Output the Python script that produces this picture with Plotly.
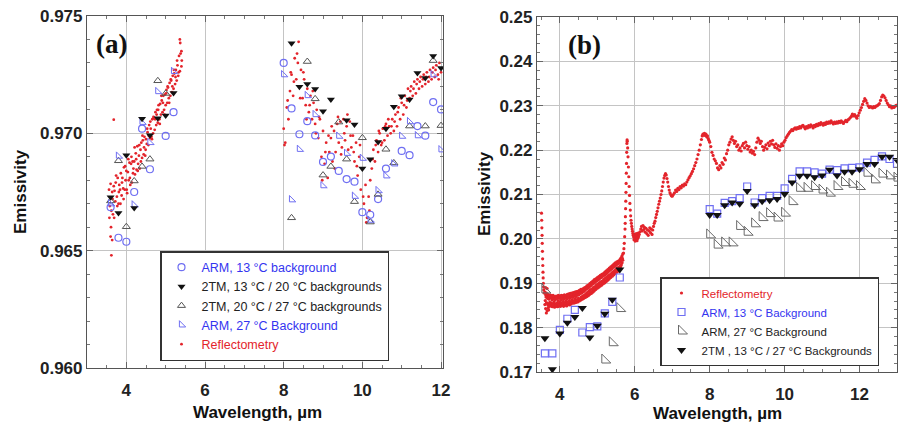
import plotly.graph_objects as go

# ---------------- Panel (a) data ----------------
A_ARM13_X = [3.6, 3.8, 4.0, 4.2, 4.4, 4.6, 5.0, 5.2,
             8.0, 8.2, 8.4, 8.6, 8.8, 9.0, 9.2, 9.4, 9.6, 9.8, 10.0, 10.2, 10.4, 10.6, 11.0, 11.2, 11.4, 11.6, 11.8, 12.0]
A_ARM13_Y = [0.96685, 0.96555, 0.96538, 0.96750, 0.97020, 0.96847, 0.96989, 0.97090,
             0.97300, 0.97106, 0.96996, 0.97052, 0.96991, 0.96878, 0.96901, 0.96840, 0.96805, 0.96794, 0.96664, 0.96653,
             0.96720, 0.96850, 0.96925, 0.96907, 0.97031, 0.96990, 0.97133, 0.97102]

A_2TM1320_X = [3.6, 3.8, 4.0, 4.2, 4.4, 4.6, 4.8, 5.0, 5.2,
               8.2, 8.4, 8.6, 8.8, 9.0, 9.2, 9.6, 9.8, 10.0, 10.2, 10.4, 10.6, 10.8, 11.0, 11.2, 11.4, 11.6, 11.8, 12.0]
A_2TM1320_Y = [0.96728, 0.96661, 0.96907, 0.96682, 0.97062, 0.96992, 0.97064, 0.97076, 0.97172,
               0.97384, 0.97198, 0.97210, 0.97189, 0.97094, 0.97144, 0.97056, 0.97038, 0.96850, 0.96890, 0.96963,
               0.97020, 0.97113, 0.97158, 0.97144, 0.97257, 0.97236, 0.97330, 0.97278]

A_2TM2027_X = [3.6, 3.8, 4.0, 4.2, 4.4, 4.6, 4.8, 5.0,
               8.2, 8.6, 8.8, 9.0, 9.2, 9.4, 9.6, 9.8, 10.0, 10.2, 10.4, 10.6, 10.8, 11.2, 11.6, 11.8, 12.0]
A_2TM2027_Y = [0.96712, 0.96883, 0.96602, 0.96797, 0.96859, 0.96890, 0.97224, 0.97170,
               0.96640, 0.97306, 0.97147, 0.96822, 0.96859, 0.97048, 0.96890, 0.96709, 0.96981, 0.96622, 0.96740,
               0.96932, 0.96874, 0.97031, 0.97031, 0.97310, 0.97033]

A_ARM27_X = [3.6, 3.8, 4.2, 4.4, 4.6, 4.8, 5.2,
             8.0, 8.2, 8.4, 8.6, 8.8, 9.0, 9.4, 9.6, 9.8, 10.0, 10.2, 10.4, 10.6, 10.8, 11.0, 11.2, 11.4, 11.8, 12.0]
A_ARM27_Y = [0.96700, 0.96903, 0.96695, 0.97047, 0.96961, 0.97178, 0.97264,
             0.97250, 0.96717, 0.96932, 0.97161, 0.97080, 0.96777, 0.96988, 0.96915, 0.96732, 0.96894, 0.96630,
             0.96756, 0.96819, 0.96870, 0.96988, 0.97050, 0.96990, 0.97250, 0.96930]

# Reflectometry, panel (a), short-wave cluster
A_REF_L1_X = [3.56, 3.58, 3.60, 3.62, 3.64, 3.66, 3.68, 3.70, 3.72, 3.74, 3.76, 3.78, 3.80, 3.82, 3.84, 3.86,
              3.88, 3.90, 3.92, 3.94, 3.96, 3.98, 4.00, 4.02, 4.04, 4.06, 4.08, 4.10, 4.12, 4.14, 4.16, 4.18,
              4.20, 4.22, 4.24, 4.26, 4.28, 4.30, 4.32, 4.34, 4.36, 4.38, 4.40, 4.42, 4.44, 4.46, 4.48, 4.50,
              4.52, 4.54, 4.56, 4.58, 4.60, 4.62, 4.64, 4.66, 4.68, 4.70, 4.72, 4.74, 4.76, 4.78, 4.80, 4.82,
              4.84, 4.86, 4.88, 4.90, 4.92, 4.94, 4.96, 4.98, 5.00, 5.02, 5.04, 5.06, 5.08, 5.10, 5.12, 5.14,
              5.16, 5.18, 5.20, 5.22, 5.24, 5.26, 5.28, 5.30, 5.32, 5.34, 5.36, 5.38, 5.40]
A_REF_L1_Y = [0.96760, 0.96690, 0.96785, 0.96670, 0.96750, 0.96655, 0.96775, 0.96755, 0.96710, 0.96820, 0.96730,
              0.96810, 0.96700, 0.96780, 0.96760, 0.96830, 0.96735, 0.96810, 0.96765, 0.96855, 0.96760, 0.96800,
              0.96840, 0.96745, 0.96835, 0.96800, 0.96875, 0.96780, 0.96870, 0.96790, 0.96880, 0.96850, 0.96880,
              0.96825, 0.96915, 0.96845, 0.96945, 0.96870, 0.96905, 0.96850, 0.96930, 0.96960, 0.96895, 0.96970,
              0.96910, 0.96985, 0.96905, 0.96975, 0.96955, 0.97005, 0.96950, 0.97035, 0.96980, 0.97020, 0.96985,
              0.97060, 0.97000, 0.97065, 0.97015, 0.97090, 0.97035, 0.97100, 0.97045, 0.97120, 0.97060, 0.97125,
              0.97080, 0.97140, 0.97090, 0.97160, 0.97100, 0.97165, 0.97120, 0.97185, 0.97130, 0.97195, 0.97150,
              0.97215, 0.97160, 0.97225, 0.97175, 0.97245, 0.97190, 0.97255, 0.97210, 0.97270, 0.97225, 0.97290,
              0.97245, 0.97330, 0.97265, 0.97340, 0.97285]
A_REF_L2_X = [3.57, 3.61, 3.65, 3.69, 3.73, 3.77, 3.81, 3.85, 3.89, 3.93, 3.97, 4.01, 4.05, 4.09, 4.13, 4.17,
              4.21, 4.25, 4.29, 4.33, 4.37, 4.41, 4.45, 4.49, 4.53, 4.57, 4.61, 4.65, 4.69, 4.73, 4.77, 4.81,
              4.85, 4.89, 4.93, 4.97, 5.01, 5.05, 5.09, 5.13, 5.17, 5.21, 5.25, 5.29, 5.33, 5.37, 5.41,
              3.68, 3.62, 3.60, 3.64, 5.36, 5.40]
A_REF_L2_Y = [0.96640, 0.96600, 0.96720, 0.96640, 0.96790, 0.96690, 0.96750, 0.96700, 0.96790, 0.96720, 0.96860,
              0.96760, 0.96890, 0.96810, 0.96900, 0.96830, 0.96940, 0.96890, 0.96840, 0.96950, 0.96880, 0.96990,
              0.96940, 0.96930, 0.97020, 0.96990, 0.97050, 0.96975, 0.97070, 0.97060, 0.97080, 0.97100, 0.97040,
              0.97160, 0.97130, 0.97080, 0.97170, 0.97200, 0.97130, 0.97230, 0.97200, 0.97270, 0.97240, 0.97310,
              0.97260, 0.97385, 0.97310,
              0.97058, 0.96480, 0.96560, 0.96545, 0.97400, 0.97350]

# Reflectometry, panel (a), long-wave cluster
A_REF_R1_X = [8.00, 8.04, 8.08, 8.12, 8.16, 8.20, 8.24, 8.28, 8.32, 8.36, 8.40, 8.44, 8.48, 8.52, 8.56, 8.60,
              8.64, 8.68, 8.72, 8.76, 8.80, 8.84, 8.88, 8.92, 8.96, 9.00, 9.04, 9.08, 9.12, 9.16, 9.20, 9.24,
              9.28, 9.32, 9.36, 9.40, 9.44, 9.48, 9.52, 9.56, 9.60, 9.64, 9.68, 9.72, 9.76, 9.80, 9.84, 9.88,
              9.92, 9.96, 10.00, 10.04, 10.08, 10.12, 10.16, 10.20, 10.24, 10.28, 10.32, 10.36, 10.40, 10.44,
              10.48, 10.52, 10.56, 10.60, 10.64, 10.68, 10.72, 10.76, 10.80, 10.84, 10.88, 10.92, 10.96, 11.00,
              11.04, 11.08, 11.12, 11.16, 11.20, 11.24, 11.28, 11.32, 11.36, 11.40, 11.44, 11.48, 11.52, 11.56,
              11.60, 11.64, 11.68, 11.72, 11.76, 11.80, 11.84, 11.88, 11.92, 11.96, 12.00]
A_REF_R1_Y = [0.97020, 0.96960, 0.97110, 0.97060, 0.97180, 0.97250, 0.97160, 0.97320, 0.97230, 0.97300, 0.97200,
              0.97270, 0.97150, 0.97230, 0.97120, 0.97190, 0.97090, 0.97160, 0.97060, 0.97130, 0.97040, 0.97100,
              0.96980, 0.97060, 0.96900, 0.97010, 0.96870, 0.96960, 0.96810, 0.96920, 0.96980, 0.96880, 0.97010,
              0.96920, 0.97040, 0.96960, 0.97050, 0.96940, 0.97060, 0.96970, 0.97030, 0.96930, 0.97050, 0.96940,
              0.96990, 0.96880, 0.96960, 0.96820, 0.96900, 0.96760, 0.96850, 0.96700, 0.96780, 0.96640, 0.96730,
              0.96800, 0.96850, 0.96930, 0.96880, 0.96970, 0.96920, 0.97000, 0.96950, 0.97020, 0.96970, 0.97040,
              0.96990, 0.97030, 0.97000, 0.97060, 0.97010, 0.97080, 0.97030, 0.97110, 0.97060, 0.97130, 0.97080,
              0.97160, 0.97110, 0.97190, 0.97150, 0.97200, 0.97160, 0.97220, 0.97170, 0.97230, 0.97190, 0.97240,
              0.97200, 0.97250, 0.97210, 0.97260, 0.97220, 0.97270, 0.97230, 0.97280, 0.97240, 0.97290, 0.97250,
              0.97300, 0.97260]
A_REF_R2_X = [8.02, 8.10, 8.18, 8.26, 8.34, 8.42, 8.50, 8.58, 8.66, 8.74, 8.82, 8.90, 8.98, 9.06, 9.14, 9.22,
              9.30, 9.38, 9.46, 9.54, 9.62, 9.70, 9.78, 9.86, 9.94, 10.02, 10.10, 10.18, 10.26, 10.34, 10.42,
              10.50, 10.58, 10.66, 10.74, 10.82, 10.90, 10.98, 11.06, 11.14, 11.22, 11.30, 11.38, 11.46, 11.54,
              11.62, 11.70, 11.78, 11.86, 11.94, 8.38]
A_REF_R2_Y = [0.96950, 0.97140, 0.97260, 0.97220, 0.97340, 0.97150, 0.97260, 0.97060, 0.97120, 0.97180, 0.97000,
              0.97070, 0.96800, 0.96920, 0.96990, 0.97030, 0.96850, 0.97070, 0.96910, 0.97000, 0.97080, 0.96990,
              0.96920, 0.96860, 0.96950, 0.96730, 0.96620, 0.96670, 0.96890, 0.96950, 0.97010, 0.96960, 0.97030,
              0.97060, 0.97030, 0.97050, 0.97090, 0.97150, 0.97120, 0.97140, 0.97180, 0.97190, 0.97210, 0.97220,
              0.97230, 0.97240, 0.97240, 0.97260, 0.97270, 0.97230, 0.97390]

# ---------------- Panel (b) data ----------------
B_ARM13_X = [3.6, 3.8, 4.0, 4.2, 4.4, 4.6, 4.8, 5.0, 5.2, 5.4, 5.6,
             8.0, 8.2, 8.4, 8.6, 8.8, 9.0, 9.2, 9.4, 9.6, 9.8, 10.0, 10.2, 10.4, 10.6, 10.8, 11.0, 11.2, 11.4,
             11.6, 11.8, 12.0, 12.2, 12.4, 12.6, 12.8, 13.0]
B_ARM13_Y = [0.1742, 0.1742, 0.1795, 0.1820, 0.1840, 0.1789, 0.1801, 0.1803, 0.1832, 0.1858, 0.1913,
             0.2067, 0.2057, 0.2081, 0.2085, 0.2092, 0.2118, 0.2082, 0.2092, 0.2097, 0.2097, 0.2114, 0.2135,
             0.2152, 0.2152, 0.2150, 0.2147, 0.2156, 0.2155, 0.2159, 0.2160, 0.2161, 0.2172, 0.2178, 0.2186,
             0.2180, 0.2169]
B_2TM_X = [3.6, 3.8, 4.0, 4.2, 4.4, 4.6, 4.8, 5.0, 5.2, 5.4, 5.6,
           8.0, 8.2, 8.4, 8.6, 8.8, 9.0, 9.2, 9.4, 9.6, 9.8, 10.0, 10.2, 10.4, 10.6, 10.8, 11.0, 11.2, 11.4,
           11.6, 11.8, 12.0, 12.2, 12.4, 12.6, 12.8, 13.0]
B_2TM_Y = [0.1776, 0.1706, 0.1787, 0.1811, 0.1824, 0.1844, 0.1778, 0.1804, 0.1831, 0.1863, 0.1931,
           0.2054, 0.2054, 0.2076, 0.2082, 0.2079, 0.2108, 0.2076, 0.2085, 0.2087, 0.2090, 0.2101, 0.2127,
           0.2142, 0.2142, 0.2139, 0.2143, 0.2156, 0.2143, 0.2151, 0.2151, 0.2157, 0.2169, 0.2169, 0.2185,
           0.2185, 0.2178]
B_ARM27_X = [3.6, 5.2, 5.4, 5.6,
             8.0, 8.2, 8.4, 8.6, 8.8, 9.0, 9.2, 9.4, 9.6, 9.8, 10.0, 10.2, 10.4, 10.6, 10.8, 11.0, 11.2, 11.4,
             11.6, 11.8, 12.0, 12.2, 12.4, 12.6, 12.8, 13.0]
B_ARM27_Y = [0.1885, 0.1727, 0.1766, 0.1843,
             0.2009, 0.1986, 0.1991, 0.1991, 0.2028, 0.2015, 0.2034, 0.2048, 0.2057, 0.2047, 0.2058, 0.2084,
             0.2114, 0.2114, 0.2118, 0.2110, 0.2103, 0.2118, 0.2127, 0.2123, 0.2118, 0.2148, 0.2133, 0.2146,
             0.2142, 0.2137]

# Reflectometry, panel (b): dense band 3.6-5.7 um (upper edge, lower edge and middle of the scatter band)
B_REF_BAND_X = [3.60, 3.62, 3.64, 3.66, 3.68, 3.70, 3.72, 3.74, 3.76, 3.78, 3.80, 3.82, 3.84, 3.86, 3.88, 3.90,
                3.92, 3.94, 3.96, 3.98, 4.00, 4.02, 4.04, 4.06, 4.08, 4.10, 4.12, 4.14, 4.16, 4.18, 4.20, 4.22,
                4.24, 4.26, 4.28, 4.30, 4.32, 4.34, 4.36, 4.38, 4.40, 4.42, 4.44, 4.46, 4.48, 4.50, 4.52, 4.54,
                4.56, 4.58, 4.60, 4.62, 4.64, 4.66, 4.68, 4.70, 4.72, 4.74, 4.76, 4.78, 4.80, 4.82, 4.84, 4.86,
                4.88, 4.90, 4.92, 4.94, 4.96, 4.98, 5.00, 5.02, 5.04, 5.06, 5.08, 5.10, 5.12, 5.14, 5.16, 5.18,
                5.20, 5.22, 5.24, 5.26, 5.28, 5.30, 5.32, 5.34, 5.36, 5.38, 5.40, 5.42, 5.44, 5.46, 5.48, 5.50,
                5.52, 5.54, 5.56, 5.58, 5.60, 5.62, 5.64, 5.66, 5.68]
B_REF_BAND_UP = [0.1880, 0.1874, 0.1878, 0.1872, 0.1875, 0.1871, 0.1870, 0.1874, 0.1868, 0.1872, 0.1868, 0.1873,
                 0.1866, 0.1870, 0.1867, 0.1871, 0.1866, 0.1870, 0.1873, 0.1867, 0.1871, 0.1868, 0.1873, 0.1868,
                 0.1872, 0.1869, 0.1874, 0.1869, 0.1873, 0.1870, 0.1875, 0.1870, 0.1876, 0.1871, 0.1877, 0.1872,
                 0.1878, 0.1873, 0.1879, 0.1874, 0.1880, 0.1876, 0.1881, 0.1877, 0.1882, 0.1878, 0.1884, 0.1880,
                 0.1886, 0.1881, 0.1887, 0.1883, 0.1889, 0.1885, 0.1891, 0.1888, 0.1894, 0.1891, 0.1896, 0.1893,
                 0.1899, 0.1896, 0.1902, 0.1899, 0.1905, 0.1902, 0.1908, 0.1905, 0.1910, 0.1908, 0.1913, 0.1910,
                 0.1915, 0.1912, 0.1918, 0.1915, 0.1920, 0.1917, 0.1922, 0.1920, 0.1925, 0.1922, 0.1928, 0.1925,
                 0.1931, 0.1928, 0.1934, 0.1931, 0.1937, 0.1934, 0.1940, 0.1937, 0.1943, 0.1940, 0.1946, 0.1943,
                 0.1948, 0.1945, 0.1950, 0.1948, 0.1953, 0.1955, 0.1958, 0.1962, 0.1966]
B_REF_BAND_LOW = [0.1852, 0.1843, 0.1855, 0.1838, 0.1851, 0.1853, 0.1848, 0.1851, 0.1849, 0.1852, 0.1847, 0.1854,
                  0.1850, 0.1846, 0.1853, 0.1848, 0.1851, 0.1847, 0.1854, 0.1849, 0.1852, 0.1848, 0.1855, 0.1850,
                  0.1853, 0.1848, 0.1856, 0.1851, 0.1854, 0.1849, 0.1857, 0.1852, 0.1855, 0.1851, 0.1857, 0.1853,
                  0.1856, 0.1858, 0.1855, 0.1859, 0.1856, 0.1860, 0.1857, 0.1861, 0.1858, 0.1862, 0.1860, 0.1864,
                  0.1862, 0.1866, 0.1864, 0.1867, 0.1866, 0.1869, 0.1868, 0.1871, 0.1870, 0.1873, 0.1872, 0.1876,
                  0.1875, 0.1879, 0.1877, 0.1881, 0.1880, 0.1884, 0.1883, 0.1887, 0.1886, 0.1890, 0.1889, 0.1893,
                  0.1891, 0.1895, 0.1894, 0.1897, 0.1896, 0.1900, 0.1899, 0.1902, 0.1901, 0.1905, 0.1904, 0.1908,
                  0.1907, 0.1911, 0.1910, 0.1914, 0.1913, 0.1917, 0.1916, 0.1920, 0.1919, 0.1923, 0.1922, 0.1926,
                  0.1925, 0.1929, 0.1928, 0.1932, 0.1934, 0.1937, 0.1941, 0.1946, 0.1952]
B_REF_MID_X = [3.61, 3.63, 3.65, 3.67, 3.69, 3.71, 3.73, 3.75, 3.77, 3.79, 3.81, 3.83, 3.85, 3.87, 3.89, 3.91,
               3.93, 3.95, 3.97, 3.99, 4.01, 4.03, 4.05, 4.07, 4.09, 4.11, 4.13, 4.15, 4.17, 4.19, 4.21, 4.23,
               4.25, 4.27, 4.29, 4.31, 4.33, 4.35, 4.37, 4.39, 4.41, 4.43, 4.45, 4.47, 4.49, 4.51, 4.53, 4.55,
               4.57, 4.59, 4.61, 4.63, 4.65, 4.67, 4.69, 4.71, 4.73, 4.75, 4.77, 4.79, 4.81, 4.83, 4.85, 4.87,
               4.89, 4.91, 4.93, 4.95, 4.97, 4.99, 5.01, 5.03, 5.05, 5.07, 5.09, 5.11, 5.13, 5.15, 5.17, 5.19,
               5.21, 5.23, 5.25, 5.27, 5.29, 5.31, 5.33, 5.35, 5.37, 5.39, 5.41, 5.43, 5.45, 5.47, 5.49, 5.51,
               5.53, 5.55, 5.57, 5.59, 5.61, 5.63, 5.65, 5.67]
B_REF_MID_Y = [0.1861, 0.1869, 0.1856, 0.1866, 0.1845, 0.1864, 0.1857, 0.1868, 0.1855, 0.1862, 0.1853, 0.1865,
               0.1858, 0.1863, 0.1851, 0.1866, 0.1856, 0.1861, 0.1852, 0.1867, 0.1858, 0.1863, 0.1854, 0.1866,
               0.1859, 0.1864, 0.1855, 0.1867, 0.1860, 0.1865, 0.1856, 0.1868, 0.1861, 0.1866, 0.1858, 0.1869,
               0.1862, 0.1868, 0.1860, 0.1871, 0.1864, 0.1870, 0.1862, 0.1873, 0.1866, 0.1874, 0.1865, 0.1877,
               0.1869, 0.1878, 0.1871, 0.1881, 0.1873, 0.1884, 0.1876, 0.1887, 0.1879, 0.1889, 0.1882, 0.1892,
               0.1885, 0.1895, 0.1887, 0.1898, 0.1890, 0.1900, 0.1892, 0.1903, 0.1895, 0.1906, 0.1898, 0.1908,
               0.1901, 0.1911, 0.1903, 0.1913, 0.1905, 0.1916, 0.1908, 0.1918, 0.1911, 0.1921, 0.1914, 0.1924,
               0.1917, 0.1927, 0.1919, 0.1930, 0.1922, 0.1933, 0.1925, 0.1936, 0.1928, 0.1939, 0.1931, 0.1941,
               0.1934, 0.1944, 0.1936, 0.1947, 0.1940, 0.1951, 0.1946, 0.1956]

# Reflectometry, panel (b): rest of the spectrum
B_REF_X = [3.51, 3.515, 3.52, 3.525, 3.53, 3.535, 3.54, 3.545, 3.55, 3.555, 3.56, 3.565, 3.57, 3.58,
           3.64, 3.70, 3.62, 3.66,
           5.70, 5.71, 5.72, 5.73, 5.74, 5.745, 5.75, 5.755, 5.76, 5.765, 5.77, 5.775, 5.78, 5.785, 5.79,
           5.795, 5.80, 5.81, 5.82, 5.83, 5.84, 5.85, 5.86, 5.87, 5.88, 5.89, 5.90, 5.91, 5.92, 5.93, 5.94,
           5.95, 5.96,
           5.97, 5.98, 5.99, 6.00, 6.01, 6.02, 6.03, 6.04, 6.05, 6.06, 6.07, 6.08, 6.09, 6.10, 6.12, 6.14,
           6.16, 6.18, 6.20, 6.22, 6.24, 6.26, 6.28, 6.30, 6.32, 6.34, 6.36, 6.38, 6.40, 6.42, 6.44, 6.46,
           6.48, 6.50, 6.52,
           6.54, 6.56, 6.58, 6.60, 6.62, 6.64, 6.66, 6.68, 6.70, 6.72, 6.74, 6.76, 6.78, 6.80, 6.82, 6.84,
           6.86, 6.88, 6.90, 6.92, 6.94, 6.96, 6.98,
           7.00, 7.03, 7.06, 7.09, 7.12, 7.15, 7.18, 7.21, 7.24, 7.27, 7.30, 7.33, 7.36, 7.39, 7.42, 7.45,
           7.48, 7.51, 7.54, 7.57, 7.60, 7.63, 7.66, 7.69, 7.72, 7.75, 7.78, 7.80, 7.82, 7.84, 7.86, 7.88,
           7.90, 7.92, 7.94, 7.96, 7.98, 8.00,
           8.03, 8.06, 8.09, 8.12, 8.15, 8.18, 8.21, 8.24, 8.27, 8.30, 8.33, 8.36, 8.39, 8.42, 8.45, 8.48,
           8.51, 8.54, 8.57, 8.60, 8.63, 8.66, 8.69, 8.72, 8.75, 8.78, 8.81, 8.84, 8.87, 8.90, 8.93, 8.96,
           8.99, 9.02, 9.05, 9.08, 9.11, 9.14, 9.17, 9.20, 9.23, 9.26, 9.29, 9.32, 9.35, 9.38, 9.41, 9.44,
           9.47, 9.50, 9.53, 9.56, 9.59, 9.62, 9.65, 9.68, 9.71, 9.74, 9.77, 9.80, 9.83, 9.86, 9.89, 9.92,
           9.95, 9.98,
           10.01, 10.04, 10.07, 10.10, 10.13, 10.16, 10.19, 10.22, 10.25, 10.28, 10.31, 10.34, 10.37, 10.40,
           10.43, 10.46, 10.49, 10.52, 10.55, 10.58, 10.61, 10.64, 10.67, 10.70, 10.73, 10.76, 10.79, 10.82,
           10.85, 10.88, 10.91, 10.94, 10.97, 11.00, 11.03, 11.06, 11.09, 11.12, 11.15, 11.18, 11.21, 11.24,
           11.27, 11.30, 11.33, 11.36, 11.39, 11.42, 11.45, 11.48, 11.51, 11.54, 11.57, 11.60, 11.63, 11.66,
           11.69, 11.72, 11.75, 11.78, 11.81, 11.84, 11.87, 11.90, 11.93, 11.96, 11.99, 12.02, 12.05, 12.08,
           12.11, 12.14, 12.17, 12.20, 12.23, 12.26, 12.29, 12.32, 12.35, 12.38, 12.41, 12.44, 12.47, 12.50,
           12.53, 12.56, 12.59, 12.62, 12.65, 12.68, 12.71, 12.74, 12.77, 12.80, 12.83, 12.86, 12.89, 12.92,
           12.95, 12.98]
B_REF_Y = [0.2058, 0.2042, 0.2025, 0.2008, 0.1990, 0.1972, 0.1955, 0.1940, 0.1925, 0.1912, 0.1900, 0.1892,
           0.1885, 0.1878,
           0.1833, 0.1840, 0.1890, 0.1888,
           0.1968, 0.1978, 0.1990, 0.2005, 0.2022, 0.2035, 0.2050, 0.2068, 0.2085, 0.2105, 0.2125, 0.2148,
           0.2170, 0.2195, 0.2215, 0.2223, 0.2220, 0.2205, 0.2185, 0.2162, 0.2140, 0.2118, 0.2098, 0.2080,
           0.2065, 0.2052, 0.2042, 0.2035, 0.2028, 0.2022, 0.2017, 0.2012, 0.2008,
           0.2004, 0.1998, 0.2010, 0.2002, 0.1995, 0.2006, 0.1999, 0.2012, 0.2003, 0.1996, 0.2008, 0.2001,
           0.2013, 0.2005, 0.2010, 0.2016, 0.2022, 0.2028, 0.2018, 0.2030, 0.2021, 0.2026, 0.2015, 0.2024,
           0.2012, 0.2020, 0.2008, 0.2018, 0.2025, 0.2014, 0.2022, 0.2010, 0.2020, 0.2028, 0.2035,
           0.2040, 0.2048, 0.2055, 0.2062, 0.2070, 0.2078, 0.2085, 0.2092, 0.2100, 0.2108, 0.2118, 0.2128,
           0.2137, 0.2143, 0.2147, 0.2144, 0.2136, 0.2128, 0.2118, 0.2110, 0.2104, 0.2100, 0.2097,
           0.2096, 0.2100, 0.2104, 0.2110, 0.2107, 0.2114, 0.2111, 0.2118, 0.2115, 0.2121, 0.2119, 0.2124,
           0.2122, 0.2128, 0.2133, 0.2138, 0.2142, 0.2147, 0.2152, 0.2158, 0.2165, 0.2172, 0.2180, 0.2190,
           0.2200, 0.2212, 0.2224, 0.2232, 0.2236, 0.2234, 0.2238, 0.2233, 0.2236, 0.2230, 0.2232, 0.2226,
           0.2222, 0.2218,
           0.2208, 0.2195, 0.2188, 0.2180, 0.2176, 0.2170, 0.2160, 0.2156, 0.2165, 0.2160, 0.2172, 0.2168,
           0.2182, 0.2178, 0.2192, 0.2200, 0.2212, 0.2218, 0.2225, 0.2230, 0.2222, 0.2215, 0.2220, 0.2208,
           0.2212, 0.2200, 0.2205, 0.2198, 0.2210, 0.2215, 0.2205, 0.2218, 0.2210, 0.2202, 0.2208, 0.2196,
           0.2200, 0.2193, 0.2197, 0.2190, 0.2205, 0.2218, 0.2227, 0.2222, 0.2215, 0.2220, 0.2208, 0.2200,
           0.2206, 0.2212, 0.2203, 0.2216, 0.2210, 0.2220, 0.2214, 0.2222, 0.2212, 0.2206, 0.2214, 0.2204,
           0.2210, 0.2200, 0.2208, 0.2214, 0.2210, 0.2218,
           0.2222, 0.2228, 0.2232, 0.2236, 0.2240, 0.2243, 0.2246, 0.2244, 0.2248, 0.2250, 0.2247, 0.2251,
           0.2249, 0.2253, 0.2250, 0.2254, 0.2256, 0.2252, 0.2248, 0.2253, 0.2250, 0.2255, 0.2252, 0.2257,
           0.2254, 0.2250, 0.2256, 0.2253, 0.2258, 0.2255, 0.2260, 0.2257, 0.2262, 0.2259, 0.2256, 0.2261,
           0.2258, 0.2263, 0.2260, 0.2264, 0.2261, 0.2266, 0.2262, 0.2259, 0.2263, 0.2260, 0.2264, 0.2261,
           0.2265, 0.2262, 0.2266, 0.2263, 0.2260, 0.2264, 0.2267, 0.2264, 0.2268, 0.2270, 0.2273, 0.2276,
           0.2281, 0.2277, 0.2280, 0.2276, 0.2272, 0.2278, 0.2284, 0.2290, 0.2296, 0.2303, 0.2310, 0.2316,
           0.2312, 0.2306, 0.2300, 0.2296, 0.2298, 0.2297, 0.2295, 0.2298, 0.2296, 0.2299, 0.2300, 0.2302,
           0.2305, 0.2312, 0.2320, 0.2324, 0.2322, 0.2318, 0.2312, 0.2306, 0.2302, 0.2298, 0.2300, 0.2295,
           0.2298, 0.2296, 0.2299, 0.2301]

A_XTICKS = [4, 6, 8, 10, 12]
A_YTICKS = [0.960, 0.965, 0.970, 0.975]
B_XTICKS = [4, 6, 8, 10, 12]
B_YTICKS = [0.17, 0.18, 0.19, 0.20, 0.21, 0.22, 0.23, 0.24, 0.25]

# ---------------- styling ----------------
RED = "#e3242b"
BLUE = "#6f6ff2"
BLUE_TXT = "#3434f0"
GRAY = "#555555"
BLACK = "#111111"
FONT = "Arial, Liberation Sans, sans-serif"

fig = go.Figure()

# Panel (a) traces
fig.add_trace(go.Scatter(x=A_REF_L1_X + A_REF_L2_X + A_REF_R1_X + A_REF_R2_X,
                         y=A_REF_L1_Y + A_REF_L2_Y + A_REF_R1_Y + A_REF_R2_Y,
                         mode="markers", marker=dict(size=2.8, color=RED),
                         name=f"<span style='color:{RED}'>Reflectometry</span>",
                         legend="legend", legendrank=5, xaxis="x", yaxis="y"))
fig.add_trace(go.Scatter(x=A_ARM13_X, y=A_ARM13_Y, mode="markers",
                         marker=dict(symbol="circle-open", size=7, color=BLUE, line=dict(width=1.2)),
                         name=f"<span style='color:{BLUE_TXT}'>ARM, 13 °C background</span>",
                         legend="legend", legendrank=1, xaxis="x", yaxis="y"))
fig.add_trace(go.Scatter(x=A_2TM2027_X, y=A_2TM2027_Y, mode="markers",
                         marker=dict(symbol="triangle-up-open", size=7, color=GRAY, line=dict(width=1)),
                         name="2TM, 20 °C / 27 °C backgrounds",
                         legend="legend", legendrank=3, xaxis="x", yaxis="y"))
fig.add_trace(go.Scatter(x=A_ARM27_X, y=A_ARM27_Y, mode="markers",
                         marker=dict(symbol="triangle-sw-open", size=7, color=BLUE, line=dict(width=1)),
                         name=f"<span style='color:{BLUE_TXT}'>ARM, 27 °C Background</span>",
                         legend="legend", legendrank=4, xaxis="x", yaxis="y"))
fig.add_trace(go.Scatter(x=A_2TM1320_X, y=A_2TM1320_Y, mode="markers",
                         marker=dict(symbol="triangle-down", size=7, color=BLACK),
                         name="2TM, 13 °C / 20 °C backgrounds",
                         legend="legend", legendrank=2, xaxis="x", yaxis="y"))

# Panel (b) traces
fig.add_trace(go.Scatter(x=B_REF_BAND_X + B_REF_BAND_X + B_REF_MID_X + B_REF_X,
                         y=B_REF_BAND_UP + B_REF_BAND_LOW + B_REF_MID_Y + B_REF_Y,
                         mode="markers", marker=dict(size=3.2, color=RED),
                         name=f"<span style='color:{RED}'>Reflectometry</span>",
                         legend="legend2", legendrank=1, xaxis="x2", yaxis="y2"))
fig.add_trace(go.Scatter(x=B_ARM27_X, y=B_ARM27_Y, mode="markers",
                         marker=dict(symbol="triangle-sw-open", size=10, color="#6a6a6a", line=dict(width=1)),
                         name="ARM, 27 °C Background",
                         legend="legend2", legendrank=3, xaxis="x2", yaxis="y2"))
fig.add_trace(go.Scatter(x=B_ARM13_X, y=B_ARM13_Y, mode="markers",
                         marker=dict(symbol="square-open", size=7, color=BLUE, line=dict(width=1.2)),
                         name=f"<span style='color:{BLUE_TXT}'>ARM, 13 °C Background</span>",
                         legend="legend2", legendrank=2, xaxis="x2", yaxis="y2"))
fig.add_trace(go.Scatter(x=B_2TM_X, y=B_2TM_Y, mode="markers",
                         marker=dict(symbol="triangle-down", size=8, color=BLACK),
                         name="2TM , 13 °C / 27 °C Backgrounds",
                         legend="legend2", legendrank=4, xaxis="x2", yaxis="y2"))

tickfont = dict(family=FONT, size=17, color="#222", weight="bold")
common = dict(showline=True, linecolor="#555", linewidth=1.2, mirror="allticks",
              ticks="inside", ticklen=6, tickcolor="#666", tickwidth=1,
              showgrid=True, gridcolor="#c4c4c4", gridwidth=1, zeroline=False,
              tickfont=tickfont, automargin=False)

fig.update_layout(
    width=900, height=425, margin=dict(l=0, r=0, t=0, b=0, autoexpand=False),
    paper_bgcolor="white", plot_bgcolor="white",
    xaxis=dict(common, domain=[87/900, 443/900], range=[3.0, 12.05], tickvals=A_XTICKS,
               minor=dict(dtick=0.5, tick0=0, ticks="inside", ticklen=3, tickcolor="#777", showgrid=False),
               anchor="y", ticklabelstandoff=6),
    yaxis=dict(common, domain=[1 - 368/425, 1 - 16/425], range=[0.960, 0.975], tickvals=A_YTICKS,
               tickformat=".3f",
               minor=dict(dtick=0.001, tick0=0.96, ticks="inside", ticklen=3, tickcolor="#777", showgrid=False),
               anchor="x"),
    xaxis2=dict(common, domain=[537/900, 897/900], range=[3.39, 13.0], tickvals=B_XTICKS,
                minor=dict(dtick=0.5, tick0=0, ticks="inside", ticklen=3, tickcolor="#777", showgrid=False),
                anchor="y2", ticklabelstandoff=6),
    yaxis2=dict(common, domain=[1 - 372/425, 1 - 17/425], range=[0.17, 0.25], tickvals=B_YTICKS,
                tickformat=".2f",
                minor=dict(dtick=0.002, tick0=0.17, ticks="inside", ticklen=3, tickcolor="#777", showgrid=False),
                anchor="x2"),
    legend=dict(x=160/900, y=1 - 251/425, xanchor="left", yanchor="top",
                bgcolor="white", bordercolor="#333", borderwidth=1.5,
                font=dict(family=FONT, size=12.5, color="#222"), tracegroupgap=0),
    legend2=dict(x=660/900, y=1 - 277/425, xanchor="left", yanchor="top",
                 bgcolor="white", bordercolor="#333", borderwidth=1.5,
                 font=dict(family=FONT, size=11.5, color="#222"), tracegroupgap=0),
    showlegend=True,
)

title_font = dict(family=FONT, size=17, color="#111", weight="bold")
serif = dict(family="Liberation Serif, Times New Roman, serif", size=27, color="#111")
annos = [
    dict(text="Wavelength, µm", x=257/900, y=1 - 412/425, xanchor="center", yanchor="middle",
         xref="paper", yref="paper", showarrow=False, font=title_font),
    dict(text="Wavelength, µm", x=717/900, y=1 - 413/425, xanchor="center", yanchor="middle",
         xref="paper", yref="paper", showarrow=False, font=title_font),
    dict(text="Emissivity", x=20/900, y=1 - 192/425, xanchor="center", yanchor="middle",
         xref="paper", yref="paper", showarrow=False, textangle=-90, font=title_font),
    dict(text="Emissivity", x=484/900, y=1 - 194/425, xanchor="center", yanchor="middle",
         xref="paper", yref="paper", showarrow=False, textangle=-90, font=title_font),
    dict(text="<b>(a)</b>", x=94/900, y=1 - 44/425, xanchor="left", yanchor="middle",
         xref="paper", yref="paper", showarrow=False, font=serif),
    dict(text="<b>(b)</b>", x=566/900, y=1 - 45/425, xanchor="left", yanchor="middle",
         xref="paper", yref="paper", showarrow=False, font=serif),
]
fig.update_layout(annotations=annos)

# remove the browser's default 8px page margin so the 900x425 figure fills the window
fig.write_html("out.html", config={"displayModeBar": False},
               post_script="document.body.style.margin='0px';")
